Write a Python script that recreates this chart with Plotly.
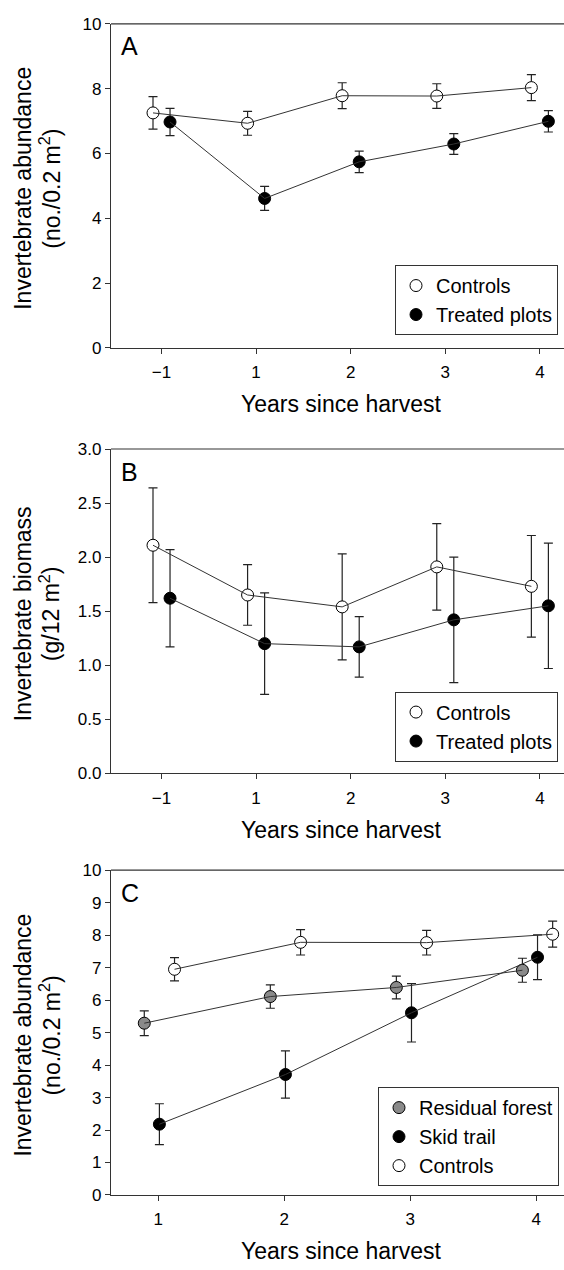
import numpy as np
import plotly.graph_objects as go

# ---------------- data ----------------
years_ab = ["\u22121", "1", "2", "3", "4"]

a_controls = [7.25, 6.93, 7.78, 7.77, 8.03]
a_controls_se = [0.50, 0.37, 0.40, 0.38, 0.40]
a_treated = [6.97, 4.61, 5.74, 6.29, 6.99]
a_treated_se = [0.42, 0.37, 0.33, 0.32, 0.33]

b_controls = [2.11, 1.65, 1.54, 1.91, 1.73]
b_controls_se = [0.53, 0.28, 0.49, 0.40, 0.47]
b_treated = [1.62, 1.20, 1.17, 1.42, 1.55]
b_treated_se = [0.45, 0.47, 0.28, 0.58, 0.58]

years_c = [1, 2, 3, 4]
c_residual = [5.29, 6.11, 6.39, 6.92]
c_residual_se = [0.38, 0.36, 0.35, 0.37]
c_skid = [2.18, 3.71, 5.61, 7.32]
c_skid_se = [0.63, 0.73, 0.90, 0.69]
c_controls = [6.95, 7.78, 7.77, 8.03]
c_controls_se = [0.36, 0.39, 0.38, 0.40]

# ---------------- layout helpers ----------------
W, H = 564, 1270
FONT = "Liberation Sans, Arial, Helvetica, sans-serif"
LEFT = 111

def px(x):
    return x / W

def py(y):
    return 1 - y / H

panels = {  # top, bottom pixel rows of plot areas
    "A": (15, 344),
    "B": (446.7, 776),
    "C": (874.3, 1204),
}

fig = go.Figure()

def add_series(xs, ys, se, fill, name, xa, ya, legend):
    fig.add_trace(go.Scatter(
        x=xs, y=ys, mode="markers", name=name,
        xaxis=xa, yaxis=ya, legend=legend,
        marker=dict(size=12, color=fill, line=dict(color="black", width=1)),
        error_y=dict(type="data", array=se, visible=True, color="#222222",
                     thickness=1.2, width=4.5),
        cliponaxis=False,
    ))

def add_line(xs, ys, xa, ya):
    fig.add_trace(go.Scatter(
        x=xs, y=ys, mode="lines", showlegend=False, hoverinfo="skip",
        xaxis=xa, yaxis=ya, line=dict(color="#333333", width=1),
        cliponaxis=False,
    ))

idx = np.arange(len(years_ab))
off = 0.09

# Panel A
add_series(idx - off, a_controls, a_controls_se, "white", "Controls", "x", "y", "legend")
add_series(idx + off, a_treated, a_treated_se, "black", "Treated plots", "x", "y", "legend")
add_line(idx - off, a_controls, "x", "y")
add_line(idx + off, a_treated, "x", "y")

# Panel B
add_series(idx - off, b_controls, b_controls_se, "white", "Controls", "x2", "y2", "legend2")
add_series(idx + off, b_treated, b_treated_se, "black", "Treated plots", "x2", "y2", "legend2")
add_line(idx - off, b_controls, "x2", "y2")
add_line(idx + off, b_treated, "x2", "y2")

# Panel C
yc = np.array(years_c, dtype=float)
add_series(yc - 0.11, c_residual, c_residual_se, "#8a8a8a", "Residual forest", "x3", "y3", "legend3")
add_series(yc + 0.01, c_skid, c_skid_se, "black", "Skid trail", "x3", "y3", "legend3")
add_series(yc + 0.13, c_controls, c_controls_se, "white", "Controls", "x3", "y3", "legend3")
add_line(yc - 0.11, c_residual, "x3", "y3")
add_line(yc + 0.01, c_skid, "x3", "y3")
add_line(yc + 0.13, c_controls, "x3", "y3")

axis_common = dict(
    showline=True, linecolor="#333333", linewidth=1.2,
    ticks="outside", ticklen=5, tickwidth=1.2, tickcolor="#333333",
    showgrid=False, zeroline=False,
    tickfont=dict(family=FONT, size=17, color="black"),
)

def dom(p):
    t, b = panels[p]
    return [py(b), py(t)]

fig.update_layout(
    width=W, height=H, margin=dict(l=0, r=0, t=0, b=0),
    paper_bgcolor="white", plot_bgcolor="white",
    font=dict(family=FONT, color="black"),
    xaxis=dict(domain=[px(LEFT), 1], anchor="y", range=[-0.534, 4.255],
               tickvals=list(idx), ticktext=years_ab, ticklabelstandoff=4, **axis_common),
    yaxis=dict(domain=dom("A"), anchor="x", range=[0, 10], dtick=2, tick0=0, **axis_common),
    xaxis2=dict(domain=[px(LEFT), 1], anchor="y2", range=[-0.534, 4.255],
                tickvals=list(idx), ticktext=years_ab, ticklabelstandoff=4, **axis_common),
    yaxis2=dict(domain=dom("B"), anchor="x2", range=[0, 3], dtick=0.5, tick0=0,
                tickformat=".1f", **axis_common),
    xaxis3=dict(domain=[px(LEFT), 1], anchor="y3", range=[0.626, 4.22],
                tickvals=years_c, ticklabelstandoff=4, **axis_common),
    yaxis3=dict(domain=dom("C"), anchor="x3", range=[0, 10], dtick=1, tick0=0, **axis_common),
)

leg_common = dict(
    xanchor="right", yanchor="bottom", bgcolor="white",
    bordercolor="#333333", borderwidth=1,
    font=dict(family=FONT, size=20, color="black"),
    itemwidth=30, tracegroupgap=0,
)
fig.update_layout(
    legend=dict(x=px(558), y=py(331), **leg_common),
    legend2=dict(x=px(558), y=py(764), **leg_common),
    legend3=dict(x=px(559), y=py(1195), **leg_common),
)

# top border lines
for xa, ya in [("x", "y"), ("x2", "y2"), ("x3", "y3")]:
    fig.add_shape(type="line", xref=f"{xa} domain", yref=f"{ya} domain",
                  x0=0, x1=1, y0=1, y1=1, line=dict(color="#333333", width=1.2))

ann = []
ytitles = {
    "A": ("Invertebrate abundance", "(no./0.2 m<sup>2</sup>)"),
    "B": ("Invertebrate biomass", "(g/12 m<sup>2</sup>)"),
    "C": ("Invertebrate abundance", "(no./0.2 m<sup>2</sup>)"),
}
for p, (t, b) in panels.items():
    mid = (t + b) / 2 + 3
    l1, l2 = ytitles[p]
    ann.append(dict(x=px(23), y=py(mid), text=l1, textangle=-90, showarrow=False,
                    xref="paper", yref="paper", xanchor="center", yanchor="middle",
                    font=dict(family=FONT, size=23, color="black")))
    ann.append(dict(x=px(50), y=py(mid), text=l2, textangle=-90, showarrow=False,
                    xref="paper", yref="paper", xanchor="center", yanchor="middle",
                    font=dict(family=FONT, size=23, color="black")))
    ann.append(dict(x=px(341), y=py(b + 57), text="Years since harvest", showarrow=False,
                    xref="paper", yref="paper", xanchor="center", yanchor="middle",
                    font=dict(family=FONT, size=23, color="black")))
    ann.append(dict(x=px(119), y=py(t + 23), text=p, showarrow=False,
                    xref="paper", yref="paper", xanchor="left", yanchor="middle",
                    font=dict(family=FONT, size=25, color="black")))
fig.update_layout(annotations=ann)

fig.write_html("out.html")
